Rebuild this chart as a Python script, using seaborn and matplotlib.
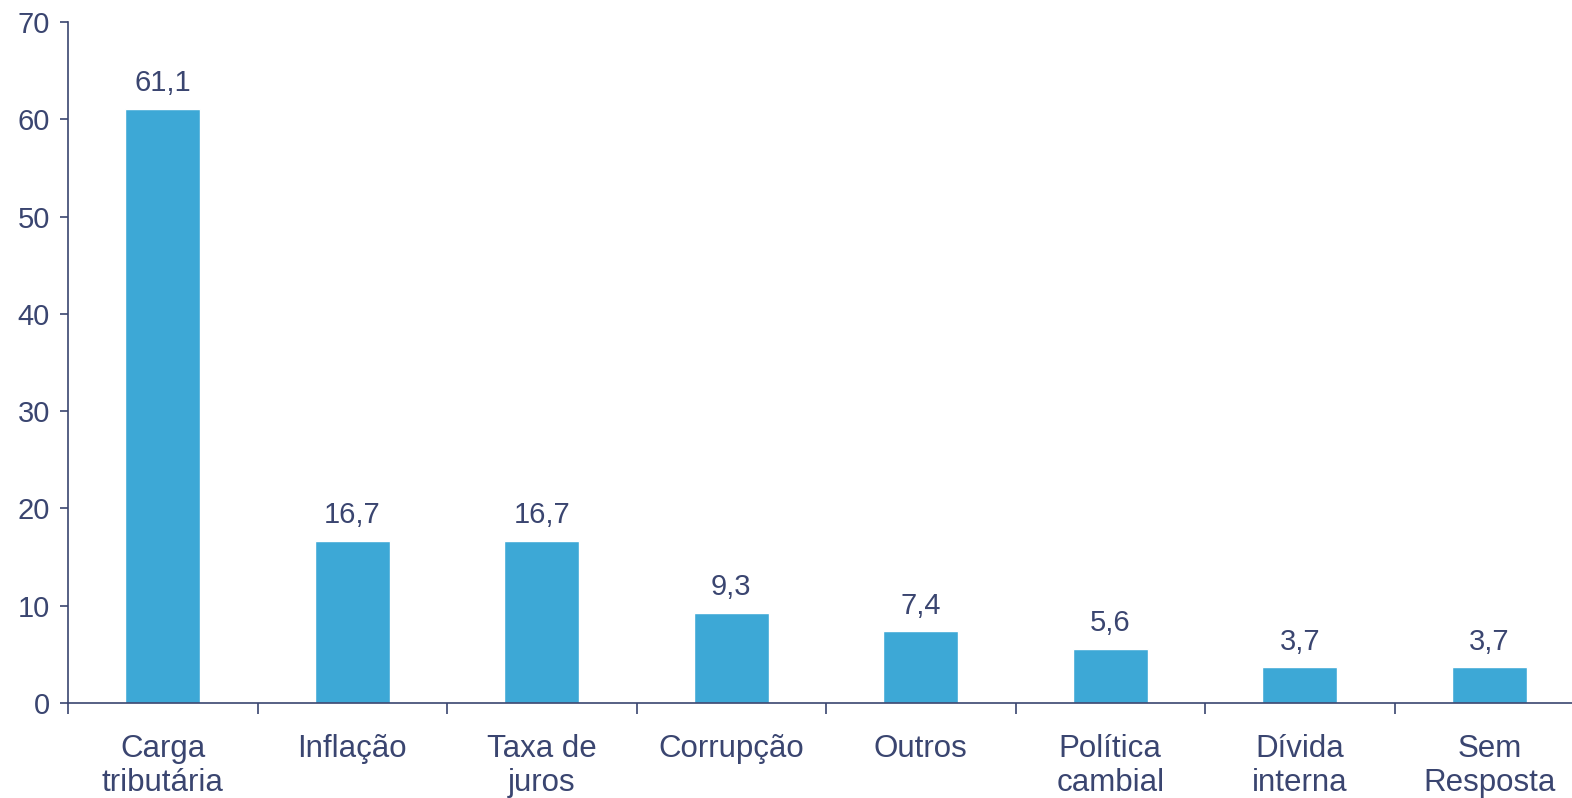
import numpy as np
import pandas as pd
import seaborn as sns
import matplotlib.pyplot as plt

# data
categories = ["Carga\ntributária", "Inflação", "Taxa de\njuros", "Corrupção",
              "Outros", "Política\ncambial", "Dívida\ninterna", "Sem\nResposta"]
values = [61.1, 16.7, 16.7, 9.3, 7.4, 5.6, 3.7, 3.7]
value_labels = ["61,1", "16,7", "16,7", "9,3", "7,4", "5,6", "3,7", "3,7"]
yticks = [0, 10, 20, 30, 40, 50, 60, 70]

navy = "#3A4570"
bar_color = "#3DA8D6"

sns.set_theme(style="white")
plt.rcParams['font.family'] = ['Liberation Sans', 'DejaVu Sans']

df = pd.DataFrame({"cat": categories, "val": values})

fig = plt.figure(figsize=(15.72, 7.98), dpi=100)
ax = fig.add_axes([68 / 1572, 95 / 798, (1572 - 68) / 1572, 681 / 798])

sns.barplot(data=df, x="cat", y="val", color=bar_color, width=0.395,
            saturation=1, ax=ax)

for i, (v, lab) in enumerate(zip(values, value_labels)):
    ax.annotate(lab, (i, v), xytext=(0, 8), textcoords="offset points",
                ha="center", va="bottom", fontsize=21, color=navy)

ax.set_yticks(yticks)
ax.set_xticks(np.arange(len(categories)))
ax.set_xticklabels(categories, linespacing=1.2)
ax.set_xticks(np.arange(len(categories) + 1) - 0.5, minor=True)
ax.set_ylim(0, 70)
ax.set_xlim(-0.5, 7.5 - 12 / 189.5)
ax.set_xlabel("")
ax.set_ylabel("")

for s in ["top", "right"]:
    ax.spines[s].set_visible(False)
for s in ["left", "bottom"]:
    ax.spines[s].set_color(navy)
    ax.spines[s].set_linewidth(1.2)

ax.tick_params(axis="y", which="major", direction="out", length=6, width=1.2,
               color=navy, labelcolor=navy, labelsize=21, pad=7, left=True)
ax.tick_params(axis="x", which="major", length=0, labelcolor=navy,
               labelsize=22.5, pad=22)
ax.tick_params(axis="x", which="minor", direction="out", length=8, width=1.2,
               color=navy, bottom=True)

fig.savefig("out.png", dpi=100)
